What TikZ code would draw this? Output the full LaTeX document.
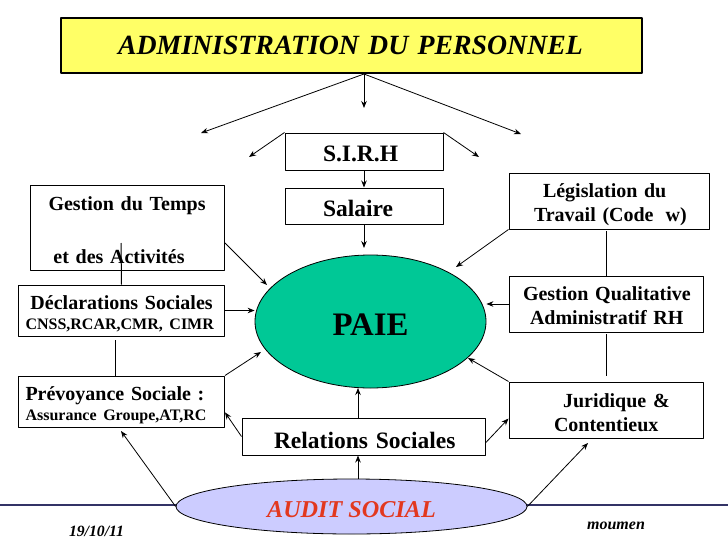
\documentclass[tikz,border=0pt]{standalone}
\usepackage{fontspec}
\setmainfont{Liberation Serif}
\usetikzlibrary{shapes.geometric,arrows.meta}
\definecolor{jaunetitre}{HTML}{FFFF66}
\definecolor{vertpaie}{HTML}{00C896}
\definecolor{mauveaudit}{HTML}{CCCCFF}
\definecolor{rougeaudit}{HTML}{E2381E}
\definecolor{bleuligne}{HTML}{333366}
\tikzset{
	boite/.style={draw, line width=1pt, fill=white, inner xsep=0pt, inner ysep=0pt, align=left, font=\fontsize{20}{24}\selectfont\bfseries},
	grande/.style={font=\fontsize{23.5}{24}\selectfont\bfseries},
	titre/.style={boite, line width=2pt, fill=jaunetitre, font=\fontsize{27.8}{28}\selectfont\bfseries\itshape},
	bulle/.style={draw, ellipse, inner sep=0pt, line width=.8pt},
	date/.style={inner sep=0pt, font=\fontsize{15.7}{16}\selectfont\bfseries\itshape},
	fleche/.style={->, line width=.8pt},
	trait/.style={line width=1pt}
}
\newcommand{\petit}{\fontsize{16}{20}\selectfont}
\newcommand{\ligne}[3]{\hspace*{#1pt}\raisebox{-#2pt}[\height][\depth]{#3}}
\begin{document}
\begin{tikzpicture}[x=1pt, y=-1pt, line join=round, >={Stealth[length=7pt,width=5.5pt]}]
	\useasboundingbox (0,0) rectangle (728,546);
	\draw[bleuligne, line width=2pt] (0,504.5)--(728,504.5);
	\node[titre, text width=581, minimum height=55] (admin) at (351.5,45.5) {\ligne{57}{0}{ADMINISTRATION DU PERSONNEL}};
	\node[boite, grande, text width=158, minimum height=37] (sirh) at (364,151.5) {\ligne{38}{2}{S.I.R.H}};
	\node[boite, grande, text width=158, minimum height=36] (salaire) at (364,206) {\ligne{38}{2}{Salaire}};
	\node[boite, text width=194, minimum height=85] (temps) at (127.5,227.5) {\ligne{18}{3}{Gestion du Temps}\\[29pt]\ligne{23}{3}{et des Activités}};
	\node[boite, text width=206, minimum height=51] (declar) at (121.5,310.5) {\ligne{12}{4}{Déclarations Sociales}\\[-3pt]\ligne{7}{3}{\petit CNSS,RCAR,CMR, CIMR}};
	\node[boite, text width=206, minimum height=51] (prevoy) at (121.5,401.5) {\ligne{7}{4}{Prévoyance Sociale :}\\[-3pt]\ligne{7}{3}{\petit Assurance Groupe,AT,RC}};
	\node[boite, grande, text width=243, minimum height=37] (relat) at (363.5,436.5) {\ligne{32}{4}{Relations Sociales}};
	\node[boite, text width=200, minimum height=56] (legis) at (609,201) {\ligne{34}{4}{Législation du}\\\ligne{25}{4}{Travail (Code\hspace{.6em}w)}};
	\node[boite, text width=194, minimum height=56] (qualit) at (606,304) {\ligne{14}{2}{Gestion Qualitative}\\\ligne{21}{2}{Administratif RH}};
	\node[boite, text width=194, minimum height=56] (jurid) at (606,410) {\ligne{54}{3}{Juridique \&}\\\ligne{45}{3}{Contentieux}};
	\node[bulle, fill=vertpaie, minimum width=231, minimum height=133, font=\fontsize{32.8}{34}\selectfont\bfseries] (paie) at (370.5,321.5) {\ligne{0}{3}{PAIE}};
	\node[bulle, fill=mauveaudit, minimum width=351, minimum height=55, text=rougeaudit, font=\fontsize{24.2}{26}\selectfont\bfseries\itshape] (audit) at (351.5,506.5) {\ligne{0}{3}{AUDIT SOCIAL}};
	\node[date] (jour) at (96.5,531) {19/10/11};
	\node[date, font=\fontsize{16}{16}\selectfont\bfseries\itshape] (auteur) at (616,526) {moumen};
	\coordinate (g1) at (201,133);
	\coordinate (m1) at (364,108);
	\coordinate (d1) at (521,134);
	\coordinate (g2) at (249,157);
	\coordinate (d2) at (479,157);
	\coordinate (sal) at (364,248);
	\coordinate (p1) at (267,285);
	\coordinate (p2) at (456,267);
	\coordinate (p3) at (261,352);
	\coordinate (p4) at (468,358);
	\coordinate (pb) at (358,388);
	\coordinate (a1) at (121,431);
	\coordinate (a2) at (588,443);
	\coordinate (v1) at (121,243);
	\coordinate (v2) at (115.5,340);
	\coordinate (v3) at (606,231);
	\coordinate (v4) at (606,334);
	\coordinate (v5) at (606,376);
	\draw[fleche] (admin.south-|m1)--(g1);
	\draw[fleche] (admin.south-|m1)--(m1);
	\draw[fleche] (admin.south-|m1)--(d1);
	\draw[fleche] (sirh.north west)--(g2);
	\draw[fleche] (sirh.north east)--(d2);
	\draw[fleche] (sirh.south)--(salaire.north);
	\draw[fleche] (salaire.south)--(sal);
	\draw[fleche] (temps.-9)--(p1);
	\draw[fleche] (legis.south west)--(p2);
	\draw[fleche] (declar.east)--(paie.west|-declar.east);
	\draw[fleche] (qualit.west)--(paie.east|-qualit.west);
	\draw[fleche] (prevoy.north east)--(p3);
	\draw[fleche] (jurid.north west)--(p4);
	\draw[fleche] (relat.north-|pb)--(pb);
	\draw[fleche] (audit.north-|pb)--(relat.south-|pb);
	\draw[fleche] (relat.west)--(prevoy.-6);
	\draw[fleche] (relat.-3)--(jurid.185);
	\draw[fleche] (audit.west)--(a1);
	\draw[fleche] (audit.east)--(a2);
	\draw[trait] (v1)--(declar.north);
	\draw[trait] (v2)--(v2|-prevoy.north);
	\draw[trait] (v3)--(qualit.north);
	\draw[trait] (v4)--(v5);
\end{tikzpicture}
\end{document}
